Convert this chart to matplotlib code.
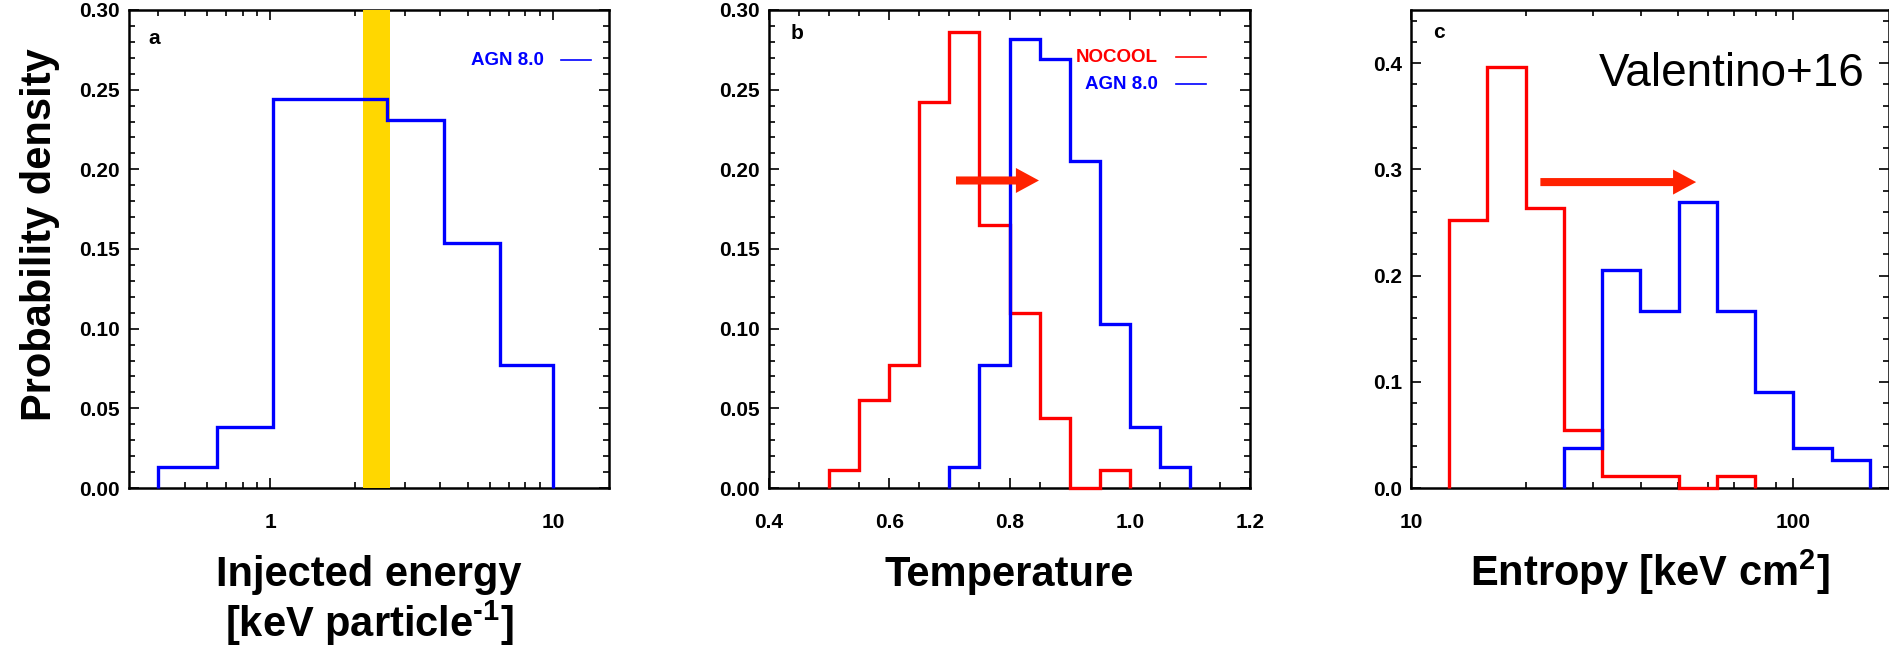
import matplotlib
matplotlib.use('Agg')
import matplotlib.pyplot as plt
from matplotlib.ticker import FixedLocator, FixedFormatter, MultipleLocator, NullFormatter, FormatStrFormatter

plt.rcParams['font.family'] = ['Liberation Sans', 'DejaVu Sans']
plt.rcParams['font.weight'] = 'bold'
plt.rcParams['mathtext.fontset'] = 'custom'
plt.rcParams['mathtext.rm'] = 'Liberation Sans:bold'
plt.rcParams['mathtext.bf'] = 'Liberation Sans:bold'
plt.rcParams['mathtext.it'] = 'Liberation Sans:bold'
plt.rcParams['mathtext.default'] = 'bf'

# ---------------- data ----------------
energy_edges = [0.40, 0.65, 1.02, 2.59, 4.11, 6.52, 10.0]
agn_energy = [0.013, 0.038, 0.244, 0.231, 0.154, 0.077]
obs_band = [2.13, 2.66]

temp_edges_nocool = [0.50, 0.55, 0.60, 0.65, 0.70, 0.75, 0.80, 0.85, 0.90, 0.95, 1.00]
nocool_temp = [0.011, 0.055, 0.077, 0.242, 0.286, 0.165, 0.110, 0.044, 0.0, 0.011]
temp_edges_agn = [0.70, 0.75, 0.80, 0.85, 0.90, 0.95, 1.00, 1.05, 1.10]
agn_temp = [0.013, 0.077, 0.282, 0.269, 0.205, 0.103, 0.038, 0.013]

ent_edges_nocool = [12.6, 15.8, 20.0, 25.1, 31.6, 39.8, 50.1, 63.1, 79.4]
nocool_ent = [0.252, 0.396, 0.264, 0.055, 0.011, 0.011, 0.0, 0.011]
ent_edges_agn = [25.1, 31.6, 39.8, 50.1, 63.1, 79.4, 100.0, 125.9, 158.5]
agn_ent = [0.038, 0.205, 0.167, 0.269, 0.167, 0.090, 0.038, 0.026]

arrow_temp = [(0.711, 0.193), (0.849, 0.193)]
arrow_ent = [(21.8, 0.288), (55.7, 0.288)]

xlabels = ["Injected energy", "Temperature", "Entropy [keV cm$^{2}$]"]
xlabel2 = "[keV particle$^{\\text{-1}}$]"
ylabel = "Probability density"

# ---------------- figure ----------------
W, H = 1890, 645
fig = plt.figure(figsize=(W / 100, H / 100), dpi=100)

def px_axes(left, top, right, bottom):
    return fig.add_axes([left / W, 1 - bottom / H, (right - left) / W, (bottom - top) / H])

axa = px_axes(129, 10, 609, 488)
axb = px_axes(769, 10, 1250, 488)
axc = px_axes(1411, 10, 1889, 488)

RED = '#ff0000'
BLUE = '#0000ff'
ARROW = '#ff2200'
LW = 2.4

for ax in (axa, axb, axc):
    for s in ax.spines.values():
        s.set_linewidth(1.8)
    ax.tick_params(which='both', direction='in', top=True, right=True, labelsize=15, width=1.2)
    ax.tick_params(which='major', length=7)
    ax.tick_params(which='minor', length=4)
    ax.tick_params(axis='x', which='both', pad=18)
    ax.tick_params(axis='y', which='both', pad=6.5)

# panel a
axa.set_xscale('log')
axa.set_xlim(0.317, 15.8)
axa.set_ylim(0, 0.30)
axa.axvspan(obs_band[0], obs_band[1], color='#ffd700', lw=0, zorder=3)
axa.stairs(agn_energy, energy_edges, color=BLUE, lw=LW, zorder=4, clip_on=False)
axa.xaxis.set_major_locator(FixedLocator([1, 10]))
axa.xaxis.set_major_formatter(FixedFormatter(['1', '10']))
axa.xaxis.set_minor_locator(FixedLocator([0.4, 0.5, 0.6, 0.7, 0.8, 0.9, 2, 3, 4, 5, 6, 7, 8, 9]))
axa.xaxis.set_minor_formatter(NullFormatter())
axa.yaxis.set_major_locator(MultipleLocator(0.05))
axa.yaxis.set_minor_locator(MultipleLocator(0.01))
axa.yaxis.set_major_formatter(FormatStrFormatter('%.2f'))
axa.text(0.04, 0.94, 'a', transform=axa.transAxes, fontsize=15, va='center', ha='left')
axa.text(0.864, 0.895, 'AGN 8.0', transform=axa.transAxes, fontsize=13.5, color=BLUE,
         ha='right', va='center')
axa.plot([0.900, 0.962], [0.895, 0.895], transform=axa.transAxes, color=BLUE, lw=1.2)

# panel b
axb.set_xlim(0.4, 1.2)
axb.set_ylim(0, 0.30)
axb.stairs(nocool_temp, temp_edges_nocool, color=RED, lw=LW, zorder=4, clip_on=False)
axb.stairs(agn_temp, temp_edges_agn, color=BLUE, lw=LW, zorder=4, clip_on=False)
axb.xaxis.set_major_locator(MultipleLocator(0.2))
axb.xaxis.set_minor_locator(MultipleLocator(0.05))
axb.xaxis.set_major_formatter(FormatStrFormatter('%.1f'))
axb.yaxis.set_major_locator(MultipleLocator(0.05))
axb.yaxis.set_minor_locator(MultipleLocator(0.01))
axb.yaxis.set_major_formatter(FormatStrFormatter('%.2f'))
axb.text(0.045, 0.951, 'b', transform=axb.transAxes, fontsize=15, va='center', ha='left')
axb.text(0.809, 0.901, 'NOCOOL', transform=axb.transAxes, fontsize=13.5, color=RED,
         ha='right', va='center')
axb.plot([0.847, 0.908], [0.901, 0.901], transform=axb.transAxes, color=RED, lw=1.2)
axb.text(0.809, 0.845, 'AGN 8.0', transform=axb.transAxes, fontsize=13.5, color=BLUE,
         ha='right', va='center')
axb.plot([0.847, 0.908], [0.845, 0.845], transform=axb.transAxes, color=BLUE, lw=1.2)
axb.annotate('', xy=arrow_temp[1], xytext=arrow_temp[0],
             arrowprops=dict(arrowstyle='simple,head_length=1.66,head_width=1.8,tail_width=0.58',
                             color=ARROW, mutation_scale=10, shrinkA=0, shrinkB=0, lw=0),
             zorder=6)

# panel c
axc.set_xscale('log')
axc.set_xlim(10, 178)
axc.set_ylim(0, 0.45)
axc.stairs(nocool_ent, ent_edges_nocool, color=RED, lw=LW, zorder=4, clip_on=False)
axc.stairs(agn_ent, ent_edges_agn, color=BLUE, lw=LW, zorder=4, clip_on=False)
axc.xaxis.set_major_locator(FixedLocator([10, 100]))
axc.xaxis.set_major_formatter(FixedFormatter(['10', '100']))
axc.xaxis.set_minor_locator(FixedLocator([20, 30, 40, 50, 60, 70, 80, 90]))
axc.xaxis.set_minor_formatter(NullFormatter())
axc.yaxis.set_major_locator(MultipleLocator(0.1))
axc.yaxis.set_minor_locator(MultipleLocator(0.02))
axc.yaxis.set_major_formatter(FormatStrFormatter('%.1f'))
axc.text(0.046, 0.953, 'c', transform=axc.transAxes, fontsize=15, va='center', ha='left')
axc.text(0.948, 0.866, 'Valentino+16', transform=axc.transAxes, fontsize=33,
         fontweight='normal', ha='right', va='center')
axc.annotate('', xy=arrow_ent[1], xytext=arrow_ent[0],
             arrowprops=dict(arrowstyle='simple,head_length=1.66,head_width=1.8,tail_width=0.58',
                             color=ARROW, mutation_scale=10, shrinkA=0, shrinkB=0, lw=0),
             zorder=6)

# labels
for ax, lab in zip((axa, axb, axc), xlabels):
    bb = ax.get_position()
    fig.text(bb.x0 + bb.width / 2, 1 - 586 / H, lab, fontsize=30, ha='center', va='baseline')
bb = axa.get_position()
fig.text(bb.x0 + bb.width / 2, 1 - 637 / H, xlabel2, fontsize=30, ha='center', va='baseline')
fig.text(40 / W, 1 - 235 / H, ylabel, fontsize=30, rotation=90, ha='center', va='center')

fig.savefig('out.png', dpi=100)
